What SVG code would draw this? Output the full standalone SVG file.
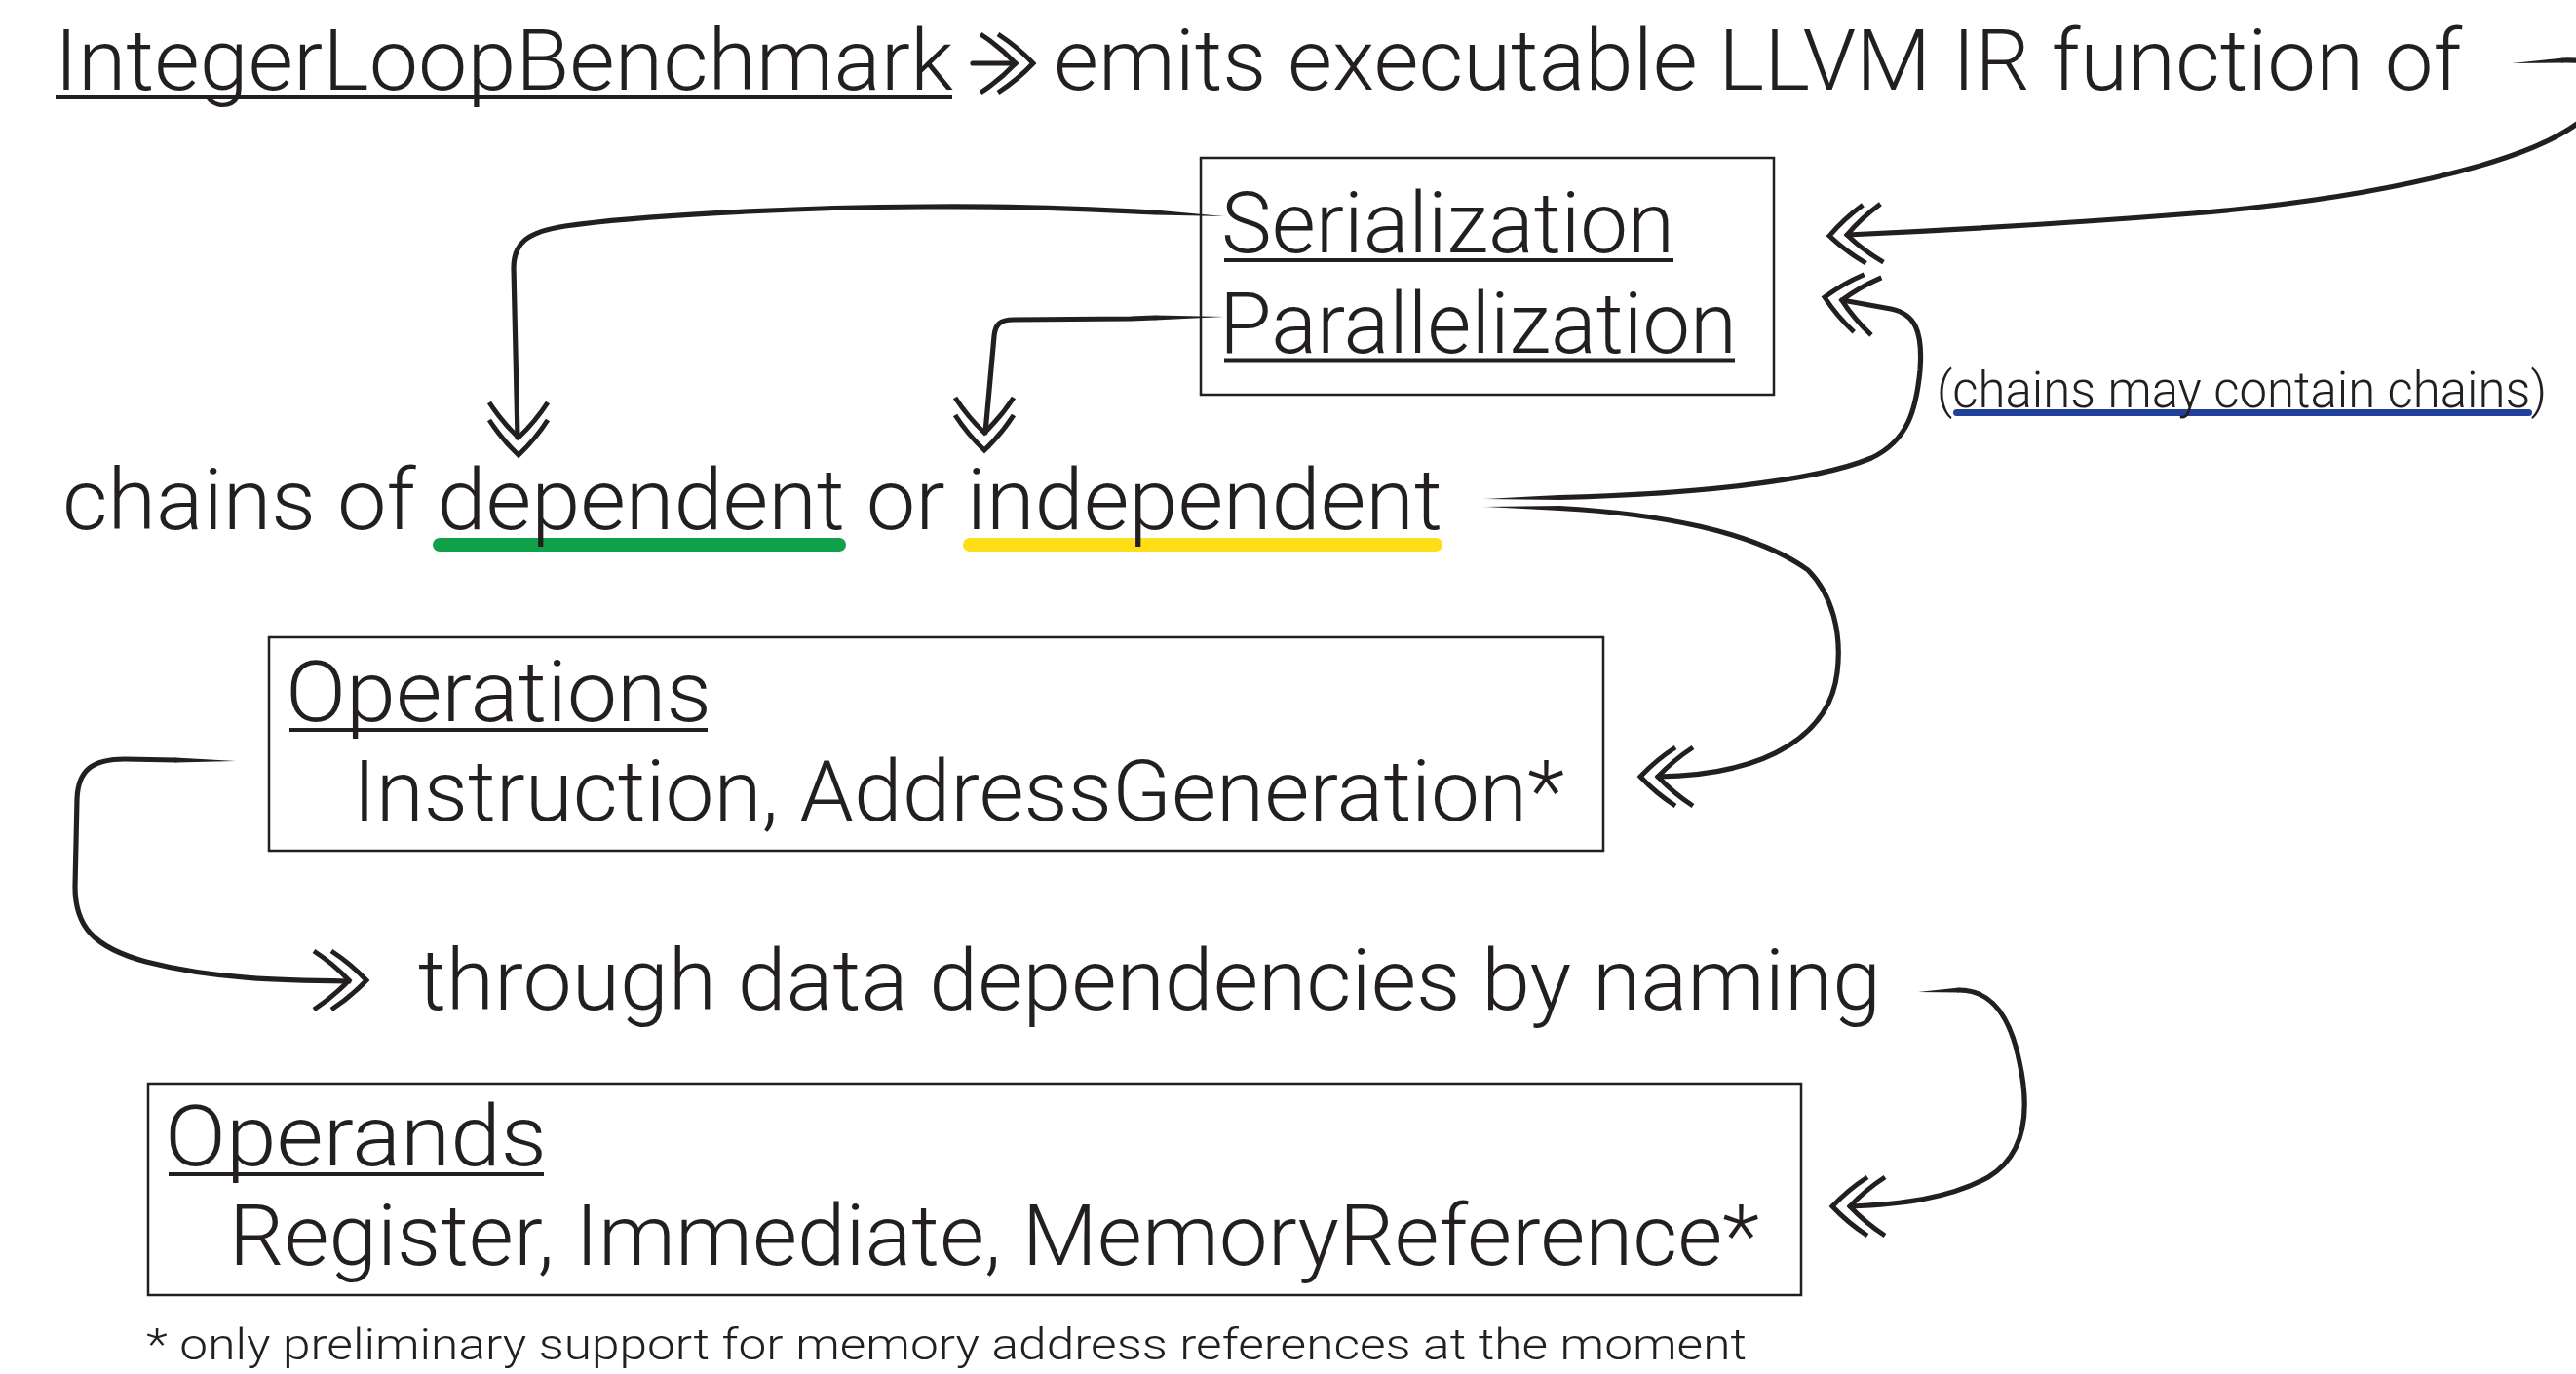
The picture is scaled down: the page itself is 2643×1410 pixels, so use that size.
<svg xmlns="http://www.w3.org/2000/svg" xmlns:xlink="http://www.w3.org/1999/xlink" width="2643" height="1410" viewBox="0 0 2643 1410">
<style>
  .t { font-family: Roboto, "Liberation Sans", Arial, sans-serif; font-weight: 300; fill: #231F20; }
  .big { font-size: 88px; }
  .small { font-size: 51px; }
  .foot { font-size: 45px; }
  .box { fill: none; stroke: #231F20; stroke-width: 2.5; }
  .ul { fill: #231F20; }
  .wedge { fill: #231F20; }
  .conn { fill: none; stroke: #231F20; stroke-width: 5.2; stroke-linecap: round; stroke-linejoin: round; }
  .head { fill: none; stroke: #231F20; stroke-width: 5; stroke-linejoin: miter; stroke-miterlimit: 10; stroke-linecap: butt; }
</style>
<defs>
  <path id="dchev" class="head" d="M-54,-30 Q-34,-17 -18,0 Q-34,17 -54,30 M-36,-30 Q-16,-17 0,0 Q-16,17 -36,30"/>
</defs>

<rect width="2643" height="1410" fill="#FFFFFF"/>

<g id="title">
  <text class="t big" x="56" y="92" textLength="922" lengthAdjust="spacingAndGlyphs">IntegerLoopBenchmark</text>
  <rect class="ul" x="57" y="98" width="920" height="4"/>
  <text class="t big" x="1081" y="92" textLength="1445" lengthAdjust="spacingAndGlyphs">emits executable LLVM IR function of</text>
</g>

<g id="chain-modes">
  <rect class="box" x="1232" y="162" width="588" height="243"/>
  <text class="t big" x="1253" y="259" textLength="465" lengthAdjust="spacingAndGlyphs">Serialization</text>
  <rect class="ul" x="1256" y="265" width="461" height="4"/>
  <text class="t big" x="1251" y="362" textLength="531" lengthAdjust="spacingAndGlyphs">Parallelization</text>
  <rect class="ul" x="1256" y="367.5" width="524" height="4"/>
</g>

<g id="chains">
  <rect x="444" y="552" width="424" height="14" rx="7" fill="#11A04A"/>
  <rect x="988" y="552" width="492" height="14" rx="7" fill="#FFDE17"/>
  <text class="t big" x="64" y="543" textLength="1416" lengthAdjust="spacingAndGlyphs">chains of dependent or independent</text>
</g>

<g id="note">
  <rect x="2004" y="420" width="594" height="7" rx="3.5" fill="#21409A"/>
  <text class="t small" x="1987" y="418" textLength="626" lengthAdjust="spacingAndGlyphs">(chains may contain chains)</text>
</g>

<g id="operations">
  <rect class="box" x="276" y="654" width="1369" height="219"/>
  <text class="t big" x="293" y="740" textLength="437" lengthAdjust="spacingAndGlyphs">Operations</text>
  <rect class="ul" x="297" y="747" width="429" height="4"/>
  <text class="t big" x="362" y="842" textLength="1243" lengthAdjust="spacingAndGlyphs">Instruction, AddressGeneration*</text>
</g>

<g id="naming">
  <text class="t big" x="429" y="1036" textLength="1501" lengthAdjust="spacingAndGlyphs">through data dependencies by naming</text>
</g>

<g id="operands">
  <rect class="box" x="152" y="1112" width="1696" height="217"/>
  <text class="t big" x="169" y="1196" textLength="392" lengthAdjust="spacingAndGlyphs">Operands</text>
  <rect class="ul" x="173" y="1203" width="385" height="4"/>
  <text class="t big" x="235" y="1298" textLength="1570" lengthAdjust="spacingAndGlyphs">Register, Immediate, MemoryReference*</text>
</g>

<g id="footnote">
  <text class="t foot" x="150" y="1395" textLength="1642" lengthAdjust="spacingAndGlyphs">* only preliminary support for memory address references at the moment</text>
</g>

<g id="connectors">
  <!-- title arrow -->
  <path class="conn" d="M998,65 L1042,65"/>
  <use xlink:href="#dchev" href="#dchev" transform="translate(1060,65)"/>

  <!-- "of" to Serialization/Parallelization box -->
  <polygon class="wedge" points="2577,65 2630,59.4 2630,64.6"/>
  <path class="conn" d="M2630,62 C2680,61 2700,80 2655,118 C2600,170 2420,205 2250,219 C2100,231 1960,238 1895,241"/>
  <use xlink:href="#dchev" href="#dchev" transform="translate(1877,242) rotate(177)"/>

  <!-- Serialization to dependent -->
  <polygon class="wedge" points="1256,222 1185,215.4 1185,220.6"/>
  <path class="conn" d="M1185,218 C1110,214 1040,211 950,212 C800,213 650,222 580,232 C540,238 527,250 527,275 L531,449"/>
  <use xlink:href="#dchev" href="#dchev" transform="translate(532,467) rotate(90)"/>

  <!-- Parallelization to independent -->
  <polygon class="wedge" points="1256,325 1185,323.4 1185,328.6"/>
  <path class="conn" d="M1185,326 L1160,327 L1040,328 C1026,328 1021,333 1020,345 L1011,444"/>
  <use xlink:href="#dchev" href="#dchev" transform="translate(1010,462) rotate(90)"/>

  <!-- independent back to Parallelization -->
  <polygon class="wedge" points="1522,512 1600,507.9 1600,513.1"/>
  <path class="conn" d="M1600,510.5 C1730,507 1860,495 1920,470 C1958,452 1966,420 1970,380 C1973,340 1965,322 1940,317 L1890,308"/>
  <use xlink:href="#dchev" href="#dchev" transform="translate(1872,305) rotate(190)"/>

  <!-- independent to Operations -->
  <polygon class="wedge" points="1522,520 1600,518.9 1600,524.1"/>
  <path class="conn" d="M1600,521.5 C1700,527 1800,545 1855,585 C1880,610 1890,650 1885,690 C1878,750 1820,795 1701,797"/>
  <use xlink:href="#dchev" href="#dchev" transform="translate(1683,797) rotate(180)"/>

  <!-- Operations to naming -->
  <polygon class="wedge" points="242,781 180,777.4 180,782.6"/>
  <path class="conn" d="M180,780 L128,779 C95,779 80,790 79,820 L77,910 C77,950 95,972 150,987 C220,1005 290,1006 358,1007"/>
  <use xlink:href="#dchev" href="#dchev" transform="translate(376,1006)"/>

  <!-- naming to Operands -->
  <polygon class="wedge" points="1968,1018 2010,1013.4 2010,1018.6"/>
  <path class="conn" d="M2010,1016 C2045,1016 2063,1045 2072,1090 C2083,1140 2078,1185 2040,1208 C2000,1230 1950,1236 1898,1238"/>
  <use xlink:href="#dchev" href="#dchev" transform="translate(1880,1238) rotate(180)"/>
</g>
</svg>
